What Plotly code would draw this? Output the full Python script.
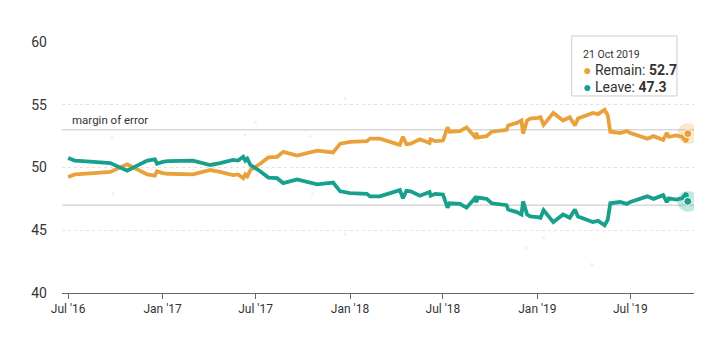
import plotly.graph_objects as go

dates = ["2016-07-01","2016-07-14","2016-07-30","2016-09-21","2016-10-24","2016-11-05","2016-11-18",
         "2016-12-02","2016-12-17","2016-12-21","2017-01-01","2017-01-11","2017-03-01","2017-04-04",
         "2017-04-23","2017-05-18","2017-05-28","2017-06-03","2017-06-07","2017-06-11","2017-06-15",
         "2017-06-21","2017-07-01","2017-07-10","2017-07-26","2017-08-12","2017-08-24","2017-09-20",
         "2017-10-29","2017-11-29","2017-12-13","2018-01-01","2018-02-03","2018-02-09","2018-02-28",
         "2018-04-08","2018-04-14","2018-04-21","2018-04-29","2018-05-17","2018-06-05","2018-06-07",
         "2018-06-16","2018-07-01","2018-07-10","2018-07-14","2018-08-03","2018-08-16","2018-09-01",
         "2018-09-04","2018-09-07","2018-09-24","2018-10-04","2018-11-02","2018-11-05","2018-11-22",
         "2018-12-01","2018-12-04","2018-12-12","2018-12-18","2019-01-01","2019-01-07","2019-01-13",
         "2019-02-01","2019-02-20","2019-03-05","2019-03-15","2019-03-21","2019-04-19","2019-04-29",
         "2019-05-12","2019-05-18","2019-05-23","2019-06-11","2019-06-24","2019-07-01","2019-08-03",
         "2019-08-15","2019-09-03","2019-09-10","2019-09-14","2019-09-28","2019-10-10","2019-10-18",
         "2019-10-21"]

remain = [49.25, 49.45, 49.5, 49.65, 50.25, 50.0, 49.75, 49.45, 49.35, 49.7, 49.55, 49.5, 49.45, 49.8,
          49.65, 49.4, 49.45, 49.3, 49.15, 49.45, 49.3, 49.8, 50.05, 50.3, 50.8, 50.85, 51.25, 50.95,
          51.35, 51.2, 51.9, 52.05, 52.1, 52.3, 52.3, 51.8, 52.45, 51.85, 51.9, 52.25, 51.95, 52.25,
          52.1, 52.15, 53.2, 52.85, 52.9, 53.2, 52.45, 52.75, 52.4, 52.5, 52.85, 53.0, 53.35, 53.55,
          53.75, 52.7, 53.75, 53.9, 53.95, 54.0, 53.4, 54.35, 53.75, 54.0, 53.35, 53.9, 54.35, 54.25,
          54.6, 54.15, 52.85, 52.75, 52.9, 52.75, 52.3, 52.5, 52.2, 52.75, 52.45, 52.55, 52.45, 52.05,
          52.7]

leave = [50.75, 50.55, 50.5, 50.35, 49.75, 50.0, 50.25, 50.55, 50.65, 50.3, 50.45, 50.5, 50.55, 50.2,
         50.35, 50.6, 50.55, 50.7, 50.85, 50.55, 50.7, 50.2, 49.95, 49.7, 49.2, 49.15, 48.75, 49.05,
         48.65, 48.8, 48.1, 47.95, 47.9, 47.7, 47.7, 48.2, 47.55, 48.15, 48.1, 47.75, 48.05, 47.75,
         47.9, 47.85, 46.8, 47.15, 47.1, 46.8, 47.55, 47.25, 47.6, 47.5, 47.15, 47.0, 46.65, 46.45,
         46.25, 47.3, 46.25, 46.1, 46.05, 46.0, 46.6, 45.65, 46.25, 46.0, 46.65, 46.1, 45.65, 45.75,
         45.4, 45.85, 47.15, 47.25, 47.1, 47.25, 47.7, 47.5, 47.8, 47.25, 47.55, 47.45, 47.55, 47.95,
         47.3]

poll_dates = ["2016-09-25", "2016-09-27", "2017-07-01", "2017-06-10", "2017-10-15", "2017-10-20",
              "2017-12-22", "2017-12-22", "2019-04-17", "2018-12-10", "2019-01-13"]
poll_vals = [52.4, 47.9, 53.6, 52.6, 52.5, 47.9, 55.5, 44.7, 42.3, 43.6, 44.4]

y_ticks = [40, 45, 50, 55, 60]
x_tickvals = ["2016-07-01", "2017-01-01", "2017-07-01", "2018-01-01", "2018-07-01", "2019-01-01", "2019-07-01"]
x_ticktext = ["Jul '16", "Jan '17", "Jul '17", "Jan '18", "Jul '18", "Jan '19", "Jul '19"]
margin_lines = [53, 47]
tooltip_date = "21 Oct 2019"

ORANGE = "#e9a23b"
TEAL = "#17a08c"
FONT = "Roboto, 'Open Sans', sans-serif"

fig = go.Figure()

fig.add_trace(go.Scatter(x=poll_dates, y=poll_vals, mode="markers",
                         marker=dict(size=3, color="rgba(180,200,200,0.25)"),
                         hoverinfo="skip", showlegend=False))

for ml in margin_lines:
    fig.add_hline(y=ml, line=dict(color="#c4c4c4", width=1), layer="below")

fig.add_trace(go.Scatter(x=dates, y=remain, mode="lines", name="Remain",
                         line=dict(color=ORANGE, width=3.8), showlegend=False))
fig.add_trace(go.Scatter(x=dates, y=leave, mode="lines", name="Leave",
                         line=dict(color=TEAL, width=3.8), showlegend=False))

# hover highlight at last point
fig.add_trace(go.Scatter(x=[dates[-1], dates[-1]], y=[remain[-1], leave[-1]], mode="markers",
                         marker=dict(size=21, color=["rgba(233,162,59,0.25)", "rgba(23,160,140,0.25)"]),
                         hoverinfo="skip", showlegend=False))
fig.add_trace(go.Scatter(x=[dates[-1], dates[-1]], y=[remain[-1], leave[-1]], mode="markers",
                         marker=dict(size=8, color=[ORANGE, TEAL], line=dict(color="white", width=1)),
                         hoverinfo="skip", showlegend=False))

fig.add_annotation(x="2016-07-05", y=margin_lines[0], text="margin of error", showarrow=False,
                   xanchor="left", yanchor="bottom", yshift=1,
                   font=dict(family=FONT, size=11.5, color="#333"))

# tooltip box
fig.add_shape(type="rect", xref="paper", yref="paper", x0=0.8065, x1=0.973, y0=0.785, y1=1.024,
              fillcolor="rgba(255,255,255,0.92)", line=dict(color="#cccccc", width=1), layer="above")
tip_text = (f"<span style='font-size:10.5px'>{tooltip_date}</span><br>"
            f"<span style='font-size:14px'><span style='color:{ORANGE}'>●</span> Remain: <b>{remain[-1]:.1f}</b></span><br>"
            f"<span style='font-size:14px'><span style='color:{TEAL}'>●</span> Leave: <b>{leave[-1]:.1f}</b></span>")
fig.add_annotation(xref="paper", yref="paper", x=0.8214, y=0.884, text=tip_text,
                   showarrow=False, xanchor="left", yanchor="middle", align="left",
                   font=dict(family=FONT, size=13, color="#333"))

fig.update_layout(
    width=719, height=341,
    margin=dict(l=62, r=25, t=42, b=48),
    paper_bgcolor="white", plot_bgcolor="white",
    font=dict(family=FONT, color="#333"),
    hovermode=False,
    xaxis=dict(type="date", range=["2016-06-19", "2019-11-02"],
               tickvals=x_tickvals, ticktext=x_ticktext,
               showgrid=False, zeroline=False,
               showline=True, linecolor="#666", linewidth=1,
               ticks="outside", ticklen=5, tickcolor="#666",
               tickfont=dict(size=12, color="#333")),
    yaxis=dict(range=[40, 60], tickvals=y_ticks,
               showgrid=True, gridcolor="#e2e2e2", griddash="dot", gridwidth=1,
               zeroline=False, showline=False, ticks="", ticklabelstandoff=14,
               tickfont=dict(size=14, color="#333")),
)

fig.write_html("out.html")
